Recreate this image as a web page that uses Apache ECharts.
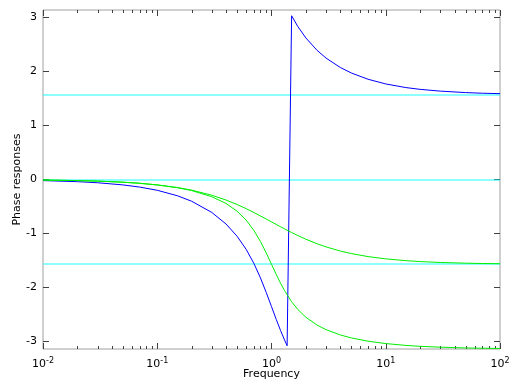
<!DOCTYPE html>
<html>
<head>
<meta charset="utf-8">
<script src="https://cdn.jsdelivr.net/npm/echarts@6/dist/echarts.min.js"></script>
<style>html,body{margin:0;padding:0;background:#fff}#c{width:512px;height:384px}</style>
</head>
<body>
<div id="c"></div>
<script>
const freqBlue = [0.01,0.02,0.03,0.05,0.07,0.1,0.15,0.2,0.3,0.4,0.5,0.6,0.7,0.8,0.9,1.0,1.1,1.2,1.3,1.37,1.5,1.7,2,2.5,3,4,5,7,10,15,20,30,50,70,100];
const phaseBlue = [-0.020,-0.040,-0.060,-0.100,-0.140,-0.200,-0.301,-0.403,-0.610,-0.825,-1.052,-1.294,-1.552,-1.823,-2.096,-2.356,-2.592,-2.798,-2.974,-3.081,3.035,2.835,2.623,2.396,2.251,2.076,1.974,1.858,1.771,1.704,1.671,1.638,1.611,1.599,1.591];
const freqGreen = [0.01,0.02,0.03,0.05,0.07,0.1,0.15,0.2,0.3,0.4,0.5,0.6,0.7,0.8,0.9,1.0,1.1,1.2,1.3,1.5,1.7,2,2.5,3,4,5,7,10,15,20,30,50,70,100];
const phaseGreen1 = [-0.010,-0.020,-0.030,-0.050,-0.070,-0.100,-0.149,-0.197,-0.291,-0.381,-0.464,-0.540,-0.611,-0.675,-0.733,-0.785,-0.833,-0.876,-0.915,-0.983,-1.039,-1.107,-1.190,-1.249,-1.326,-1.373,-1.429,-1.471,-1.504,-1.521,-1.538,-1.551,-1.557,-1.561];
const phaseGreen2 = [-0.010,-0.020,-0.030,-0.050,-0.070,-0.101,-0.152,-0.205,-0.319,-0.444,-0.588,-0.753,-0.941,-1.148,-1.363,-1.571,-1.759,-1.922,-2.059,-2.266,-2.409,-2.554,-2.697,-2.783,-2.881,-2.936,-2.997,-3.041,-3.075,-3.092,-3.108,-3.122,-3.127,-3.132];
const cyanLevels = [1.5708, 0, -1.5708];
const yTicks = [-3,-2,-1,0,1,2,3];
const xMajor = [0.01,0.1,1,10,100];
const xMinor = [0.02,0.03,0.04,0.05,0.06,0.07,0.08,0.09,0.2,0.3,0.4,0.5,0.6,0.7,0.8,0.9,2,3,4,5,6,7,8,9,20,30,40,50,60,70,80,90];
const yMin = -3.1416, yMax = 3.1416;

const FONT = 'DejaVu Sans';
const axisColor = '#a0a0a0';
const tickColor = '#404040';

function zip(xs, ys){ return xs.map((x,i)=>[x, ys[i]]); }

function xAxisDef(pos, showLabel){
  return {
    type:'log', logBase:10, min:0.01, max:100, position:pos,
    axisLine:{show:false, onZero:false},
    axisTick:{show:true, inside:true, length:6, customValues:xMajor, lineStyle:{color:tickColor, width:1}},
    splitLine:{show:false},
    axisLabel:{show:showLabel, margin:8, color:'#000', fontFamily:FONT, fontSize:11,
      formatter:function(v){ const e = Math.round(Math.log10(v)); return '{b|10}{s|' + e + '}'; },
      rich:{ b:{fontFamily:FONT, fontSize:11, color:'#000'}, s:{fontFamily:FONT, fontSize:8, color:'#000', verticalAlign:'top', padding:[0,0,6,0]} }
    },
    name: showLabel ? 'Frequency' : '', nameLocation:'middle', nameGap:20, nameMoveOverlap:false,
    nameTextStyle:{fontFamily:FONT, fontSize:11, color:'#000'}
  };
}
function yAxisDef(pos, showLabel){
  return {
    type:'value', min:yMin, max:yMax, position:pos,
    axisLine:{show:false, onZero:false},
    axisTick:{show:true, inside:true, length:6, customValues:yTicks, lineStyle:{color:tickColor, width:1}},
    splitLine:{show:false},
    axisLabel:{show:showLabel, customValues:yTicks, margin:6, color:'#000', fontFamily:FONT, fontSize:11},
    name: showLabel ? 'Phase responses' : '', nameLocation:'middle', nameGap:20, nameRotate:90, nameMoveOverlap:false,
    nameTextStyle:{fontFamily:FONT, fontSize:11, color:'#000'}
  };
}

const chart = echarts.init(document.getElementById('c'), null, {renderer:'canvas'});
const series = [
  {type:'line', data:zip(freqBlue, phaseBlue), showSymbol:false, lineStyle:{color:'#0000ff', width:1}, z:3,
   markLine:{silent:true, symbol:['none','none'], animation:false, label:{show:false}, z:1,
     lineStyle:{color:'#00ffff', width:1.5, type:'solid', opacity:0.6},
     emphasis:{disabled:true},
     data: cyanLevels.map(function(l){ return {yAxis:l}; })}},
  {type:'line', data:zip(freqGreen, phaseGreen1), showSymbol:false, lineStyle:{color:'#00ee00', width:1}, z:3},
  {type:'line', data:zip(freqGreen, phaseGreen2), showSymbol:false, lineStyle:{color:'#00ee00', width:1}, z:3}
];

chart.setOption({
  animation:false,
  backgroundColor:'#fff',
  grid:{show:true, borderColor:axisColor, borderWidth:1, backgroundColor:'transparent',
        left:43, right:12, top:10, bottom:35, containLabel:false, outerBoundsMode:'none'},
  xAxis:[ xAxisDef('bottom', true), xAxisDef('top', false) ],
  yAxis:[ yAxisDef('left', true), yAxisDef('right', false) ],
  series: series
});

// minor ticks of the log axis, placed through the axis' own scale
const yB = chart.convertToPixel({yAxisIndex:0}, yMin);
const yT = chart.convertToPixel({yAxisIndex:0}, yMax);
const minorEls = [];
xMinor.forEach(function(v){
  const px = Math.round(chart.convertToPixel({xAxisIndex:0}, v)) + 0.5;
  minorEls.push({type:'line', shape:{x1:px, y1:yB, x2:px, y2:yB-3}, style:{stroke:tickColor, lineWidth:1}, silent:true});
  minorEls.push({type:'line', shape:{x1:px, y1:yT, x2:px, y2:yT+3}, style:{stroke:tickColor, lineWidth:1}, silent:true});
});
chart.setOption({graphic:{elements:minorEls}});
</script>
</body>
</html>
